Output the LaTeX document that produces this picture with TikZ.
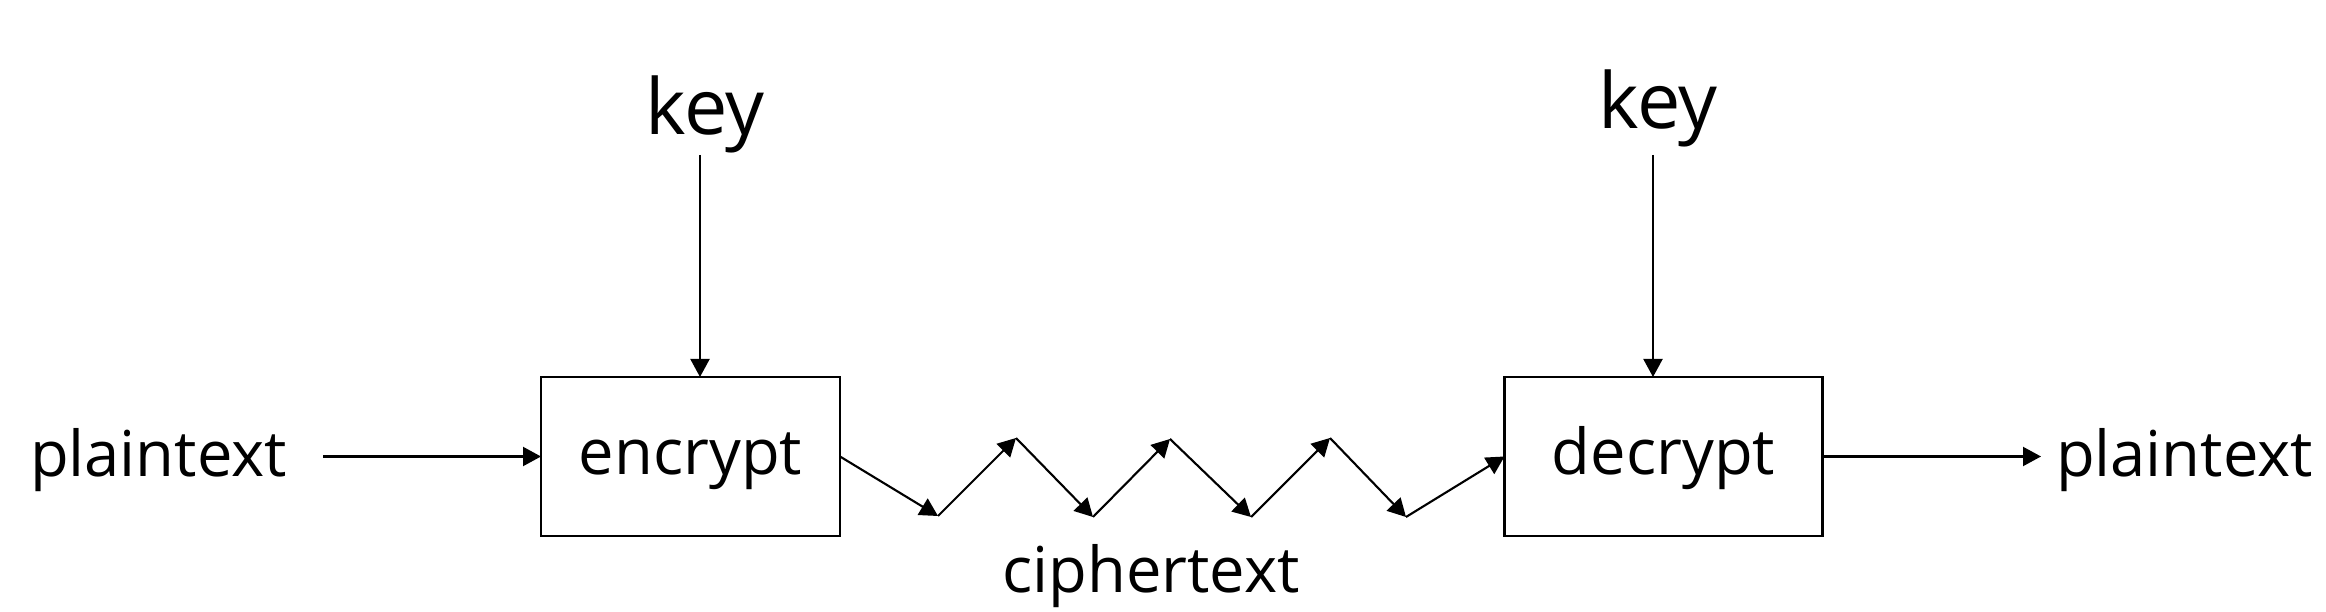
\documentclass[tikz,border=0pt]{standalone}
\usepackage{fontspec}
\setmainfont{Open Sans}
\usetikzlibrary{arrows.meta}
\begin{document}
\begin{tikzpicture}[
  every node/.style={inner sep=0pt, outer sep=0pt},
  lbl/.style={font=\fontsize{18}{20}\selectfont},
  keylbl/.style={font=\fontsize{22}{24}\selectfont},
  procbox/.style={draw, line width=0.65pt, font=\fontsize{18}{20}\selectfont, text height=0.55cm, text depth=0.18cm},
  conn/.style={line width=0.6pt, -{Triangle[length=0.18cm,width=0.19cm]}}
]
\useasboundingbox (0,0) rectangle (23.26,6.12);
\node[procbox, minimum width=2.99cm, minimum height=1.59cm] (enc) at (6.905,1.555) {encrypt};
\node[procbox, minimum width=3.18cm, minimum height=1.59cm] (dec) at (16.635,1.555) {decrypt};
\node[lbl, anchor=base west] (pin) at (0.30,1.35) {plaintext};
\node[lbl, anchor=base west] (pout) at (20.56,1.35) {plaintext};
\node[lbl, anchor=base] (ct) at (11.51,0.19) {ciphertext};
\node[keylbl, anchor=base] (k1) at (7.05,4.77) {key};
\node[keylbl, anchor=base] (k2) at (16.58,4.83) {key};
\coordinate (pinend) at (3.23,1.555);
\coordinate (poutend) at (20.41,1.555);
\coordinate (k1s) at (7.00,4.57);
\coordinate (k2s) at (16.53,4.57);
\coordinate (p1) at (9.38,0.96);
\coordinate (p2) at (10.16,1.74);
\coordinate (p3) at (10.93,0.95);
\coordinate (p4) at (11.70,1.73);
\coordinate (p5) at (12.51,0.95);
\coordinate (p6) at (13.30,1.74);
\coordinate (p7) at (14.06,0.95);
\draw[conn] (pinend) -- (enc.west);
\draw[conn] (dec.east) -- (poutend);
\draw[conn] (k1s) -- (k1s |- enc.north);
\draw[conn] (k2s) -- (k2s |- dec.north);
\draw[conn] (enc.east) -- (p1);
\draw[conn] (p1) -- (p2);
\draw[conn] (p2) -- (p3);
\draw[conn] (p3) -- (p4);
\draw[conn] (p4) -- (p5);
\draw[conn] (p5) -- (p6);
\draw[conn] (p6) -- (p7);
\draw[conn] (p7) -- (dec.west);
\end{tikzpicture}
\end{document}
